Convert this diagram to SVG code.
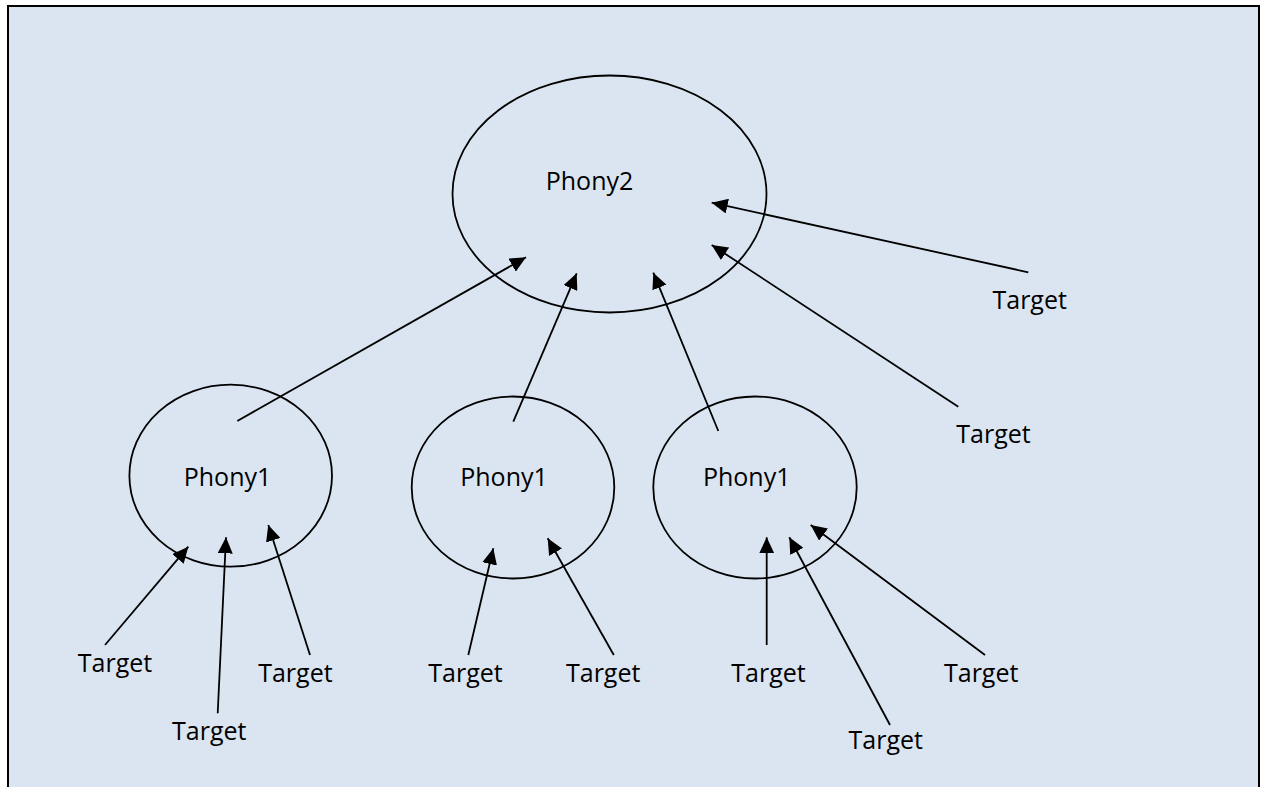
<svg xmlns="http://www.w3.org/2000/svg" width="1261" height="787" viewBox="0 0 1261 787">
  <defs>
    <marker id="arrow" markerUnits="userSpaceOnUse" markerWidth="16" markerHeight="15" refX="16" refY="7.5" orient="auto">
      <path d="M0,0 L16,7.5 L0,15 z" fill="#000"/>
    </marker>
  </defs>
  <style>
    .node { fill: none; stroke: #000; stroke-width: 1.8; }
    .lbl { font-family: "Open Sans", "Noto Sans", "Liberation Sans", sans-serif; font-size: 25px; fill: #000; text-anchor: middle; }
    .conn line { stroke: #000; stroke-width: 1.8; marker-end: url(#arrow); }
  </style>
  <rect x="8" y="6" width="1251" height="800" fill="#DBE5F1" stroke="#000" stroke-width="2"/>

  <g id="phony2">
    <ellipse class="node" cx="609.5" cy="194" rx="157" ry="118.5"/>
    <text class="lbl" x="589.5" y="190">Phony2</text>
  </g>
  <g id="phony1-a">
    <ellipse class="node" cx="230.7" cy="475.7" rx="101.3" ry="91"/>
    <text class="lbl" x="227.5" y="486">Phony1</text>
  </g>
  <g id="phony1-b">
    <ellipse class="node" cx="513" cy="487.5" rx="101.3" ry="91"/>
    <text class="lbl" x="504" y="486">Phony1</text>
  </g>
  <g id="phony1-c">
    <ellipse class="node" cx="755" cy="487.5" rx="101.7" ry="91"/>
    <text class="lbl" x="746.7" y="486">Phony1</text>
  </g>

  <g id="target-tr1"><text class="lbl" x="1029.7" y="309">Target</text></g>
  <g id="target-tr2"><text class="lbl" x="993.5" y="443.3">Target</text></g>
  <g id="target-l1"><text class="lbl" x="115" y="671.7">Target</text></g>
  <g id="target-l2"><text class="lbl" x="209.3" y="740">Target</text></g>
  <g id="target-l3"><text class="lbl" x="295.4" y="681.7">Target</text></g>
  <g id="target-m1"><text class="lbl" x="465.5" y="681.7">Target</text></g>
  <g id="target-m2"><text class="lbl" x="603.2" y="681.7">Target</text></g>
  <g id="target-r1"><text class="lbl" x="768.5" y="681.7">Target</text></g>
  <g id="target-r2"><text class="lbl" x="885.8" y="749.3">Target</text></g>
  <g id="target-r3"><text class="lbl" x="981.2" y="681.7">Target</text></g>

  <g id="connectors" class="conn">
    <line x1="237.3" y1="421" x2="526" y2="257.3"/>
    <line x1="513.3" y1="421.7" x2="576.7" y2="273.3"/>
    <line x1="718.3" y1="431" x2="653.3" y2="272.7"/>
    <line x1="958.3" y1="406.7" x2="711.7" y2="245"/>
    <line x1="1028.3" y1="272.3" x2="711.7" y2="202.7"/>
    <line x1="105" y1="645" x2="188.3" y2="546.7"/>
    <line x1="217.7" y1="713.3" x2="226" y2="537.3"/>
    <line x1="310" y1="655" x2="268.3" y2="525"/>
    <line x1="468.3" y1="655" x2="493.3" y2="548.3"/>
    <line x1="613.8" y1="655" x2="547.7" y2="538.3"/>
    <line x1="766.7" y1="645" x2="766.7" y2="537.3"/>
    <line x1="890" y1="725" x2="789.3" y2="537.3"/>
    <line x1="985" y1="655" x2="810.7" y2="525"/>
  </g>
</svg>
